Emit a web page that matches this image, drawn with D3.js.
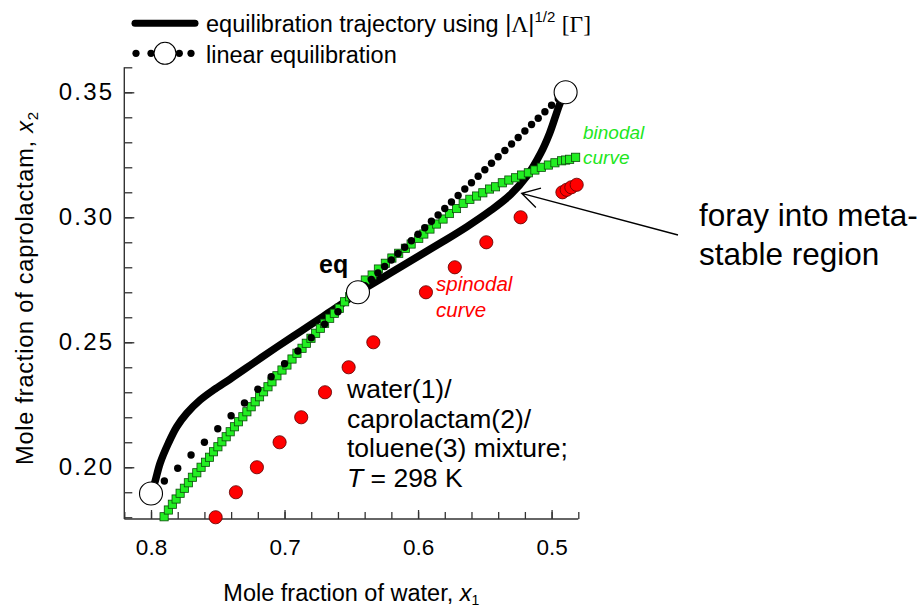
<!DOCTYPE html>
<html>
<head>
<meta charset="utf-8">
<script src="https://cdn.jsdelivr.net/npm/d3@7"></script>
<style>
  body { margin: 0; background: #fff; }
  svg { display: block; font-family: "Liberation Sans", Arial, sans-serif; }
</style>
</head>
<body>
<svg id="chart" width="924" height="610"></svg>
<script>
// Equilibration trajectory computed with |Λ|^1/2 [Γ]  (x1 = water, x2 = caprolactam)
const trajectoryX = [0.800, 0.797, 0.7932, 0.787, 0.7807, 0.7732, 0.7632, 0.7532, 0.7407, 0.7232, 0.7057, 0.6882, 0.6707, 0.6557, 0.645,
                     0.6357, 0.6207, 0.6032, 0.5832, 0.5632, 0.5457, 0.5307, 0.5182, 0.5082, 0.5015, 0.4970, 0.4936, 0.4895];
const trajectoryY = [0.1895, 0.1942, 0.2016, 0.2096, 0.2162, 0.2216, 0.2269, 0.2309, 0.2353, 0.2417, 0.2481, 0.2543, 0.2605, 0.2659, 0.2700,
                     0.2729, 0.2777, 0.2833, 0.2897, 0.2963, 0.3027, 0.3091, 0.3167, 0.3256, 0.3336, 0.3405, 0.3457, 0.3500];

// Linear equilibration steps
const linearX = [0.79, 0.78, 0.77, 0.76, 0.75, 0.74, 0.73, 0.72, 0.71, 0.70, 0.69, 0.68, 0.67, 0.66,
                 0.640, 0.635, 0.630, 0.625, 0.620, 0.615, 0.610, 0.605, 0.600, 0.595, 0.590, 0.585, 0.580, 0.575, 0.570,
                 0.565, 0.560, 0.555, 0.550, 0.545, 0.540, 0.535, 0.530, 0.525, 0.520, 0.515, 0.510, 0.505, 0.500, 0.495];
const linearY = [0.1945, 0.1996, 0.2049, 0.2100, 0.2154, 0.2206, 0.2257, 0.2312, 0.2362, 0.2414, 0.2465, 0.2518, 0.2572, 0.2622,
                 0.2726, 0.2751, 0.2777, 0.2803, 0.2829, 0.2855, 0.2880, 0.2906, 0.2932, 0.2958, 0.2984, 0.3009, 0.3035, 0.3061, 0.3087,
                 0.3113, 0.3138, 0.3164, 0.3190, 0.3216, 0.3242, 0.3267, 0.3293, 0.3319, 0.3345, 0.3371, 0.3396, 0.3422, 0.3448, 0.3474];

// Start, equilibrium and end states
const stateX = [0.800, 0.645, 0.4895];
const stateY = [0.1895, 0.270, 0.350];

// Binodal curve
const binodalX = [0.7902, 0.7870, 0.7840, 0.7812, 0.7782, 0.7750, 0.7720, 0.7690, 0.7657, 0.7625, 0.7592, 0.7562, 0.7532, 0.7499,
                  0.7469, 0.7437, 0.7407, 0.7375, 0.7345, 0.7312, 0.7282, 0.7250, 0.7220, 0.7187, 0.7157, 0.7124, 0.7094, 0.7057,
                  0.7019, 0.6982, 0.6944, 0.6907, 0.6869, 0.6837, 0.6802, 0.6767, 0.6732, 0.6700, 0.6662, 0.6627, 0.6590, 0.6550,
                  0.6512, 0.6477, 0.6436, 0.6395, 0.6344, 0.6297, 0.6245, 0.6196, 0.6145, 0.6095, 0.6052, 0.5995, 0.5957, 0.5911,
                  0.5862, 0.5813, 0.5765, 0.5712, 0.5662, 0.5612, 0.5562, 0.5515, 0.5465, 0.5420, 0.5369, 0.5320, 0.5270, 0.5225,
                  0.5174, 0.5125, 0.5077, 0.5024, 0.4975, 0.4925, 0.4895, 0.4865, 0.4820];
const binodalY = [0.1802, 0.1829, 0.1852, 0.1873, 0.1896, 0.1916, 0.1938, 0.1960, 0.1978, 0.2000, 0.2020, 0.2040, 0.2062, 0.2082,
                  0.2102, 0.2122, 0.2142, 0.2162, 0.2182, 0.2202, 0.2222, 0.2242, 0.2262, 0.2282, 0.2302, 0.2322, 0.2342, 0.2366,
                  0.2389, 0.2409, 0.2433, 0.2456, 0.2476, 0.2496, 0.2516, 0.2536, 0.2556, 0.2576, 0.2596, 0.2616, 0.2636, 0.2662,
                  0.2682, 0.2701, 0.2723, 0.2749, 0.2769, 0.2793, 0.2816, 0.2837, 0.2856, 0.2876, 0.2893, 0.2916, 0.2933, 0.2953,
                  0.2973, 0.2993, 0.3015, 0.3035, 0.3056, 0.3072, 0.3085, 0.3098, 0.3113, 0.3122, 0.3138, 0.3149, 0.3158, 0.3169,
                  0.3178, 0.3189, 0.3200, 0.3209, 0.3218, 0.3226, 0.3229, 0.3232, 0.3240];

// Spinodal curve
const spinodalX = [0.7516, 0.7364, 0.7207, 0.7037, 0.6875, 0.6697, 0.6520, 0.6335, 0.5941, 0.5725, 0.5489, 0.5232, 0.4919, 0.4887, 0.4852, 0.4812];
const spinodalY = [0.180, 0.190, 0.200, 0.210, 0.220, 0.230, 0.240, 0.250, 0.270, 0.280, 0.290, 0.300, 0.310, 0.311, 0.312, 0.313];

// Axis ticks
const xMajorTicks = [0.8, 0.7, 0.6, 0.5];
const xMinorTicks = [0.82, 0.80, 0.78, 0.76, 0.74, 0.72, 0.70, 0.68, 0.66, 0.64, 0.62, 0.60, 0.58, 0.56, 0.54, 0.52, 0.50, 0.48];
const yMajorTicks = [0.20, 0.25, 0.30, 0.35];
const yMinorTicks = [0.18, 0.19, 0.20, 0.21, 0.22, 0.23, 0.24, 0.25, 0.26, 0.27, 0.28, 0.29, 0.30, 0.31, 0.32, 0.33, 0.34, 0.35, 0.36];

const svg = d3.select("#chart");
const FONT = '"Liberation Sans", Arial, sans-serif';
const SERIF = '"Liberation Serif", "Times New Roman", serif';
const AXIS = "#333";

const x = d3.scaleLinear().domain([0.82, 0.48]).range([124.3, 578.3]);
const y = d3.scaleLinear().domain([0.1793, 0.36]).range([519, 67.3]);

const zip = (xs, ys) => xs.map((v, i) => [v, ys[i]]);

// ---- axes (ticks point inward) ----
const gx = svg.append("g").attr("transform", `translate(0,${y.range()[0]})`);
gx.call(d3.axisBottom(x).tickValues(xMinorTicks).tickSize(-7).tickFormat(""));
gx.call(g => g.select(".domain").remove());
const gxMaj = svg.append("g").attr("transform", `translate(0,${y.range()[0]})`)
  .call(d3.axisBottom(x).tickValues(xMajorTicks).tickSize(-9).tickPadding(20).tickFormat(d3.format(".1f")));
gxMaj.selectAll("text").attr("font-family", FONT).attr("font-size", 22.5).attr("fill", "#000");

const gy = svg.append("g").attr("transform", `translate(${x.range()[0]},0)`);
gy.call(d3.axisLeft(y).tickValues(yMinorTicks).tickSize(-8).tickFormat(""));
gy.call(g => g.select(".domain").remove());
const gyMaj = svg.append("g").attr("transform", `translate(${x.range()[0]},0)`)
  .call(d3.axisLeft(y).tickValues(yMajorTicks).tickSize(-10).tickPadding(10).tickFormat(d3.format(".2f")));
gyMaj.selectAll("text").attr("font-family", FONT).attr("font-size", 24)
  .attr("letter-spacing", "2.2px").attr("fill", "#000");

svg.selectAll(".domain").attr("stroke", AXIS).attr("stroke-width", 1.4);
svg.selectAll(".tick line").attr("stroke", AXIS).attr("stroke-width", 1.3);
gxMaj.select(".domain").attr("d", `M${x.range()[0]},0H${x.range()[1]}`);
gyMaj.select(".domain").attr("d", `M0,${y.range()[0]}V${y.range()[1]}`);

// ---- axis titles ----
const xTitle = svg.append("text")
  .attr("x", (x.range()[0] + x.range()[1]) / 2).attr("y", 601)
  .attr("text-anchor", "middle").attr("font-family", FONT).attr("font-size", 23.5);
xTitle.append("tspan").text("Mole fraction of water, ");
xTitle.append("tspan").attr("font-style", "italic").text("x");
xTitle.append("tspan").attr("font-size", 14).attr("dy", 4).text("1");

const yTitle = svg.append("text")
  .attr("transform", `translate(33,288) rotate(-90)`)
  .attr("text-anchor", "middle").attr("font-family", FONT).attr("font-size", 23.5)
  .attr("letter-spacing", "0.8px");
yTitle.append("tspan").text("Mole fraction of caprolactam, ");
yTitle.append("tspan").attr("font-style", "italic").text("x");
yTitle.append("tspan").attr("font-size", 15).attr("dy", 5).text("2");

// ---- data marks ----
svg.append("path")
  .datum(zip(trajectoryX, trajectoryY))
  .attr("fill", "none").attr("stroke", "#000").attr("stroke-width", 7.5)
  .attr("stroke-linejoin", "round")
  .attr("d", d3.line().x(d => x(d[0])).y(d => y(d[1])).curve(d3.curveCatmullRom.alpha(0.5)));

svg.append("g").selectAll("rect")
  .data(zip(binodalX, binodalY)).join("rect")
  .attr("x", d => x(d[0]) - 4.1).attr("y", d => y(d[1]) - 4.1)
  .attr("width", 8.2).attr("height", 8.2)
  .attr("fill", "#22ee22").attr("stroke", "#0b4d0b").attr("stroke-width", 0.8);

svg.append("g").selectAll("circle")
  .data(zip(linearX, linearY)).join("circle")
  .attr("cx", d => x(d[0])).attr("cy", d => y(d[1])).attr("r", 3.7)
  .attr("fill", "#000");

svg.append("g").selectAll("circle")
  .data(zip(spinodalX, spinodalY)).join("circle")
  .attr("cx", d => x(d[0])).attr("cy", d => y(d[1])).attr("r", 6.6)
  .attr("fill", "#ff0000").attr("stroke", "#5a0000").attr("stroke-width", 0.8);

svg.append("g").selectAll("circle")
  .data(zip(stateX, stateY)).join("circle")
  .attr("cx", d => x(d[0])).attr("cy", d => y(d[1])).attr("r", 11.5)
  .attr("fill", "#fff").attr("stroke", "#000").attr("stroke-width", 1.1);

// ---- labels ----
svg.append("text").attr("x", 319).attr("y", 273)
  .attr("font-family", FONT).attr("font-size", 25).attr("font-weight", "bold").text("eq");

const green = "#1ee61e";
[["binodal", 139], ["curve", 164]].forEach(([t, yy]) =>
  svg.append("text").attr("x", 583).attr("y", yy).attr("font-family", FONT)
    .attr("font-size", 19).attr("font-style", "italic").attr("fill", green).text(t));

[["spinodal", 291], ["curve", 317]].forEach(([t, yy]) =>
  svg.append("text").attr("x", 436).attr("y", yy).attr("font-family", FONT)
    .attr("font-size", 20.5).attr("font-style", "italic").attr("fill", "#ff0000").text(t));

const mix = svg.append("text").attr("font-family", FONT).attr("font-size", 26.5);
[["water(1)/", 398], ["caprolactam(2)/", 428], ["toluene(3) mixture;", 457]].forEach(([t, yy]) =>
  mix.append("tspan").attr("x", 347).attr("y", yy).text(t));
const tLine = mix.append("tspan").attr("x", 347).attr("y", 487);
tLine.append("tspan").attr("font-style", "italic").text("T");
tLine.append("tspan").text(" = 298 K");

const foray = svg.append("text").attr("font-family", FONT).attr("font-size", 31.5);
foray.append("tspan").attr("x", 699).attr("y", 226).text("foray into meta-");
foray.append("tspan").attr("x", 699).attr("y", 265).text("stable region");

// arrow toward the metastable excursion of the trajectory
const tip = [521.7, 193.3], tail = [678, 235];
const ang = Math.atan2(tail[1] - tip[1], tail[0] - tip[0]);
const armLen = 20, spread = Math.PI / 6;
svg.append("path")
  .attr("d", `M${tail[0]},${tail[1]}L${tip[0]},${tip[1]}` +
    `M${tip[0] + armLen * Math.cos(ang - spread)},${tip[1] + armLen * Math.sin(ang - spread)}` +
    `L${tip[0]},${tip[1]}` +
    `L${tip[0] + armLen * Math.cos(ang + spread)},${tip[1] + armLen * Math.sin(ang + spread)}`)
  .attr("fill", "none").attr("stroke", "#000").attr("stroke-width", 1.3);

// ---- legend ----
const lg = svg.append("g");
lg.append("line").attr("x1", 135).attr("x2", 195).attr("y1", 23.3).attr("y2", 23.3)
  .attr("stroke", "#000").attr("stroke-width", 7).attr("stroke-linecap", "round");
const l1 = lg.append("text").attr("x", 206).attr("y", 31.5).attr("font-family", FONT).attr("font-size", 23.5);
l1.append("tspan").text("equilibration trajectory using |");
l1.append("tspan").attr("font-family", SERIF).text("Λ");
l1.append("tspan").text("|");
l1.append("tspan").attr("font-size", 15).attr("dy", -10).text("1/2");
l1.append("tspan").attr("dy", 10).text(" ");
l1.append("tspan").attr("font-family", SERIF).text("[Γ]");

[136, 151, 179.3, 191].forEach(cx =>
  lg.append("circle").attr("cx", cx).attr("cy", 53.3).attr("r", 3.6).attr("fill", "#000"));
lg.append("circle").attr("cx", 165).attr("cy", 53.3).attr("r", 11)
  .attr("fill", "#fff").attr("stroke", "#000").attr("stroke-width", 1.1);
lg.append("text").attr("x", 206).attr("y", 62.5).attr("font-family", FONT).attr("font-size", 23.5)
  .text("linear equilibration");
</script>
</body>
</html>
